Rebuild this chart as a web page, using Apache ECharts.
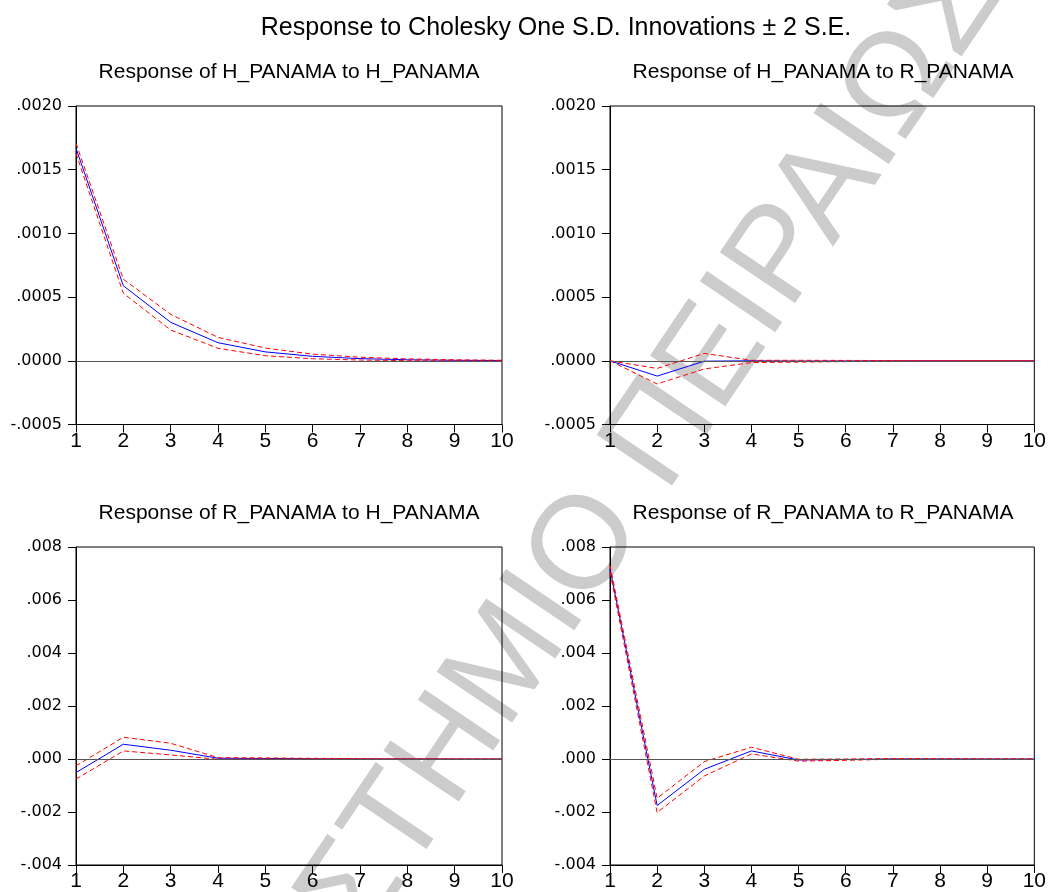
<!DOCTYPE html>
<html>
<head>
<meta charset="utf-8">
<script src="https://cdn.jsdelivr.net/npm/echarts@6/dist/echarts.min.js"></script>
<style>
html,body{margin:0;padding:0;background:#ffffff;overflow:hidden}
#c{width:1049px;height:892px}
</style>
</head>
<body>
<div id="c"></div>
<script>
// ---------- data ----------
const periods = ['1','2','3','4','5','6','7','8','9','10'];

const mainTitle = 'Response to Cholesky One S.D. Innovations \u00B1 2 S.E.';
const panelTitles = [
  'Response of H_PANAMA to H_PANAMA',
  'Response of H_PANAMA to R_PANAMA',
  'Response of R_PANAMA to H_PANAMA',
  'Response of R_PANAMA to R_PANAMA'
];
const watermarkText = '\u03A0\u0391\u039D\u0395\u03A0\u0399\u03A3\u03A4\u0397\u039C\u0399\u039F \u03A0\u0395\u0399\u03A1\u0391\u0399\u03A9\u03A3';

// Response of H_PANAMA to H_PANAMA
const hhResp  = [0.001668, 0.000589, 0.000302, 0.000142, 0.000070, 0.000035, 0.000017, 0.000008, 0.000004, 0.000002];
const hhUpper = [0.001707, 0.000640, 0.000365, 0.000184, 0.000100, 0.000052, 0.000028, 0.000015, 0.000008, 0.000004];
const hhLower = [0.001629, 0.000530, 0.000242, 0.000098, 0.000040, 0.000016, 0.000006, 0.000001, -0.000001, -0.000001];

// Response of H_PANAMA to R_PANAMA
const hrResp  = [0.000000, -0.000120, -0.000003, 0.000000, -0.000002, -0.000001, 0.000000, 0.000000, 0.000000, 0.000000];
const hrUpper = [0.000000, -0.000060, 0.000058, 0.000004, 0.000004, 0.000003, 0.000002, 0.000001, 0.000001, 0.000000];
const hrLower = [0.000000, -0.000182, -0.000064, -0.000014, -0.000010, -0.000006, -0.000003, -0.000002, -0.000001, -0.000001];

// Response of R_PANAMA to H_PANAMA
const rhResp  = [-0.000512, 0.000557, 0.000331, 0.000030, 0.000020, 0.000010, 0.000005, 0.000003, 0.000001, 0.000001];
const rhUpper = [-0.000260, 0.000820, 0.000595, 0.000050, 0.000040, 0.000025, 0.000015, 0.000008, 0.000005, 0.000003];
const rhLower = [-0.000760, 0.000305, 0.000154, -0.000010, 0.000000, -0.000003, -0.000003, -0.000002, -0.000001, -0.000001];

// Response of R_PANAMA to R_PANAMA
const rrResp  = [0.007180, -0.001755, -0.000389, 0.000305, -0.000038, -0.000020, 0.000005, 0.000003, 0.000001, 0.000000];
const rrUpper = [0.007310, -0.001480, -0.000100, 0.000444, -0.000010, 0.000000, 0.000015, 0.000010, 0.000005, 0.000003];
const rrLower = [0.007060, -0.002020, -0.000640, 0.000190, -0.000080, -0.000050, -0.000008, -0.000005, -0.000003, -0.000002];

// y-axis tick labels
const topTickLabels    = ['-.0005', '.0000', '.0005', '.0010', '.0015', '.0020'];
const bottomTickLabels = ['-.004', '-.002', '.000', '.002', '.004', '.006', '.008'];
const topAxis    = {min: -0.0005, max: 0.002, interval: 0.0005};
const bottomAxis = {min: -0.004,  max: 0.008, interval: 0.002};

// ---------- layout ----------
const grids = [
  {left: 76,  top: 106, width: 426, height: 318.5},
  {left: 610, top: 106, width: 426, height: 318.5},
  {left: 76,  top: 547, width: 426, height: 318.5},
  {left: 610, top: 547, width: 426, height: 318.5}
];
const panels = [
  {resp: hhResp, up: hhUpper, lo: hhLower, axis: topAxis,    labels: topTickLabels},
  {resp: hrResp, up: hrUpper, lo: hrLower, axis: topAxis,    labels: topTickLabels},
  {resp: rhResp, up: rhUpper, lo: rhLower, axis: bottomAxis, labels: bottomTickLabels},
  {resp: rrResp, up: rrUpper, lo: rrLower, axis: bottomAxis, labels: bottomTickLabels}
];
const titleCenters = [[289, 72], [823, 72], [289, 513], [823, 513]];

const chart = echarts.init(document.getElementById('c'), null, {renderer: 'canvas'});

const xAxes = [], yAxes = [], series = [];
panels.forEach((p, i) => {
  xAxes.push({
    gridIndex: i, type: 'category', data: periods, boundaryGap: false, position: 'bottom',
    axisLine: {show: true, onZero: false, lineStyle: {color: '#000', width: 1}},
    axisTick: {show: true, inside: false, length: 8, alignWithLabel: true, lineStyle: {color: '#000'}},
    axisLabel: {interval: 0, color: '#000', fontSize: 21, fontFamily: 'Liberation Sans, Arial', margin: 6},
    splitLine: {show: false}
  });
  const ax = p.axis, labs = p.labels;
  yAxes.push({
    gridIndex: i, type: 'value', min: ax.min, max: ax.max, interval: ax.interval, position: 'left',
    axisLine: {show: true, onZero: false, lineStyle: {color: '#000', width: 1}},
    axisTick: {show: true, inside: false, length: 8, lineStyle: {color: '#000'}},
    axisLabel: {
      color: '#000', fontSize: 16, fontFamily: 'DejaVu Sans', margin: 14,
      formatter: v => labs[Math.round((v - ax.min) / ax.interval)] || ''
    },
    splitLine: {show: false}
  });
  series.push({
    type: 'line', xAxisIndex: i, yAxisIndex: i, data: p.resp, symbol: 'none',
    lineStyle: {color: '#0000ff', width: 1}, z: 3, silent: true,
    markLine: {
      silent: true, symbol: 'none', label: {show: false},
      lineStyle: {color: '#555555', width: 1, type: 'solid'},
      data: [{yAxis: 0}], animation: false
    }
  });
  [p.up, p.lo].forEach(d => series.push({
    type: 'line', xAxisIndex: i, yAxisIndex: i, data: d, symbol: 'none',
    lineStyle: {color: '#ff0000', width: 1, type: [5, 3]}, z: 4, silent: true
  }));
});

const graphics = [
  {
    type: 'text', x: 513, y: 656, rotation: 56 * Math.PI / 180, z: -10, silent: true,
    style: {text: watermarkText, font: '132px "Liberation Sans", Arial', fill: '#cccccc',
            textAlign: 'center', textVerticalAlign: 'middle', align: 'center', verticalAlign: 'middle'}
  },
  {
    type: 'text', x: 556, y: 28, silent: true,
    style: {text: mainTitle, font: '25px "Liberation Sans", Arial', fill: '#000',
            textAlign: 'center', textVerticalAlign: 'middle', align: 'center', verticalAlign: 'middle'}
  }
];
panelTitles.forEach((t, i) => graphics.push({
  type: 'text', x: titleCenters[i][0], y: titleCenters[i][1], silent: true,
  style: {text: t, font: '21px "Liberation Sans", Arial', fill: '#000',
          textAlign: 'center', textVerticalAlign: 'middle', align: 'center', verticalAlign: 'middle'}
}));

chart.setOption({
  animation: false,
  backgroundColor: '#ffffff',
  grid: grids.map(g => Object.assign({show: true, borderColor: '#000', borderWidth: 1, backgroundColor: 'transparent'}, g)),
  xAxis: xAxes,
  yAxis: yAxes,
  series: series,
  graphic: graphics
});
</script>
</body>
</html>
